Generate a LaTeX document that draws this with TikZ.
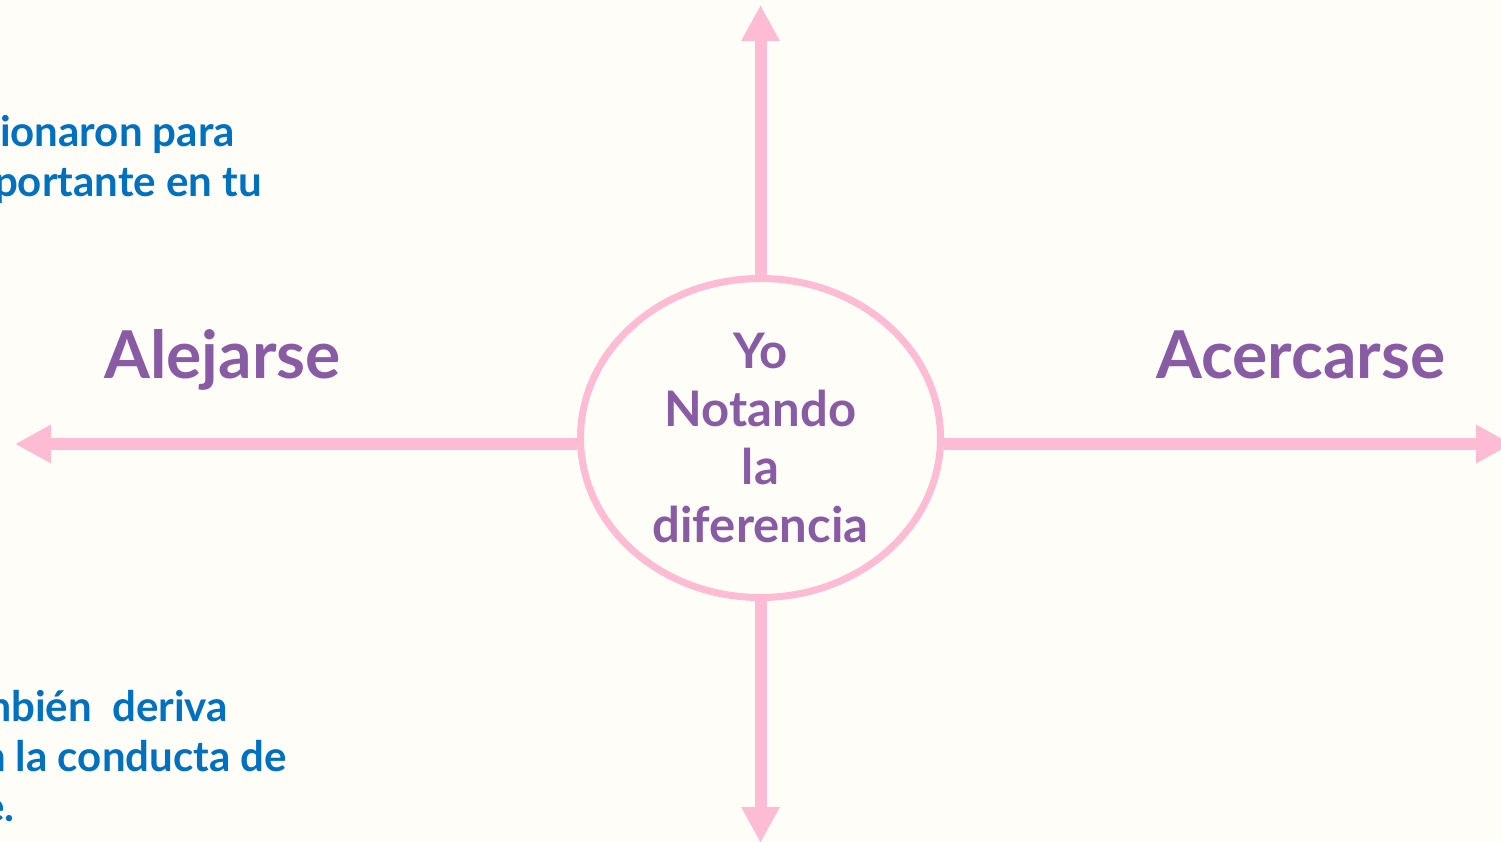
\documentclass[tikz,border=0pt]{standalone}
\usepackage{fontspec}
\setmainfont{Lato}
\usetikzlibrary{shapes.geometric,arrows.meta}
\definecolor{bg}{HTML}{FFFDF8}
\definecolor{pinkline}{HTML}{FDBBD4}
\definecolor{purp}{HTML}{8A5BA5}
\definecolor{blu}{HTML}{0070C0}
\tikzset{
  axis/.style={draw=pinkline, line width=12pt, -{Triangle[length=36pt,width=36pt]}},
  side/.style={text=purp, font=\bfseries\fontsize{66}{75}\selectfont, inner sep=0pt, anchor=base west},
  note/.style={text=blu, font=\bfseries\fontsize{42}{50}\selectfont, inner sep=0pt, anchor=base east},
  center/.style={ellipse, draw=pinkline, line width=7pt, fill=bg, minimum width=360pt, minimum height=319pt, inner sep=0pt, text=purp, align=center, font=\bfseries\fontsize{49}{58}\selectfont}
}
\begin{document}
\begin{tikzpicture}[x=1pt,y=-1pt]
\useasboundingbox (0,0) rectangle (1501,842);
\fill[bg] (0,0) rectangle (1501,842);
\clip (0,0) rectangle (1501,842);
\node[center] (me) at (760.5,438) {Yo\\Notando\\la\\diferencia};
\coordinate (L) at (15,444);
\coordinate (R) at (1512,444);
\coordinate (U) at (760.5,5);
\coordinate (D) at (760.5,843);
\draw[axis] (me.west |- L) -- (L);
\draw[axis] (me.east |- R) -- (R);
\draw[axis] (me.north) -- (U);
\draw[axis] (me.south) -- (D);
\node[side] (alej) at (104,378) {Alejarse};
\node[side] (acer) at (1156,378) {Acercarse};
\node[note] (t1) at (235,147) {ionaron para};
\node[note] (t2) at (262,197) {portante en tu};
\node[note] (b1) at (228,721) {mbién\ \ deriva};
\node[note] (b2) at (287,771) {n la conducta de};
\node[note] (b3) at (15,821) {e.};
\end{tikzpicture}
\end{document}
